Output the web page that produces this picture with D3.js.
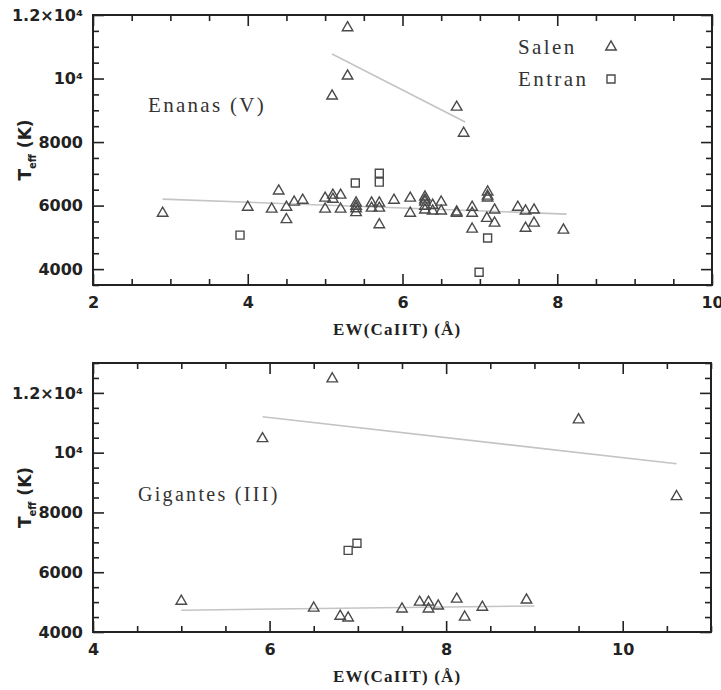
<!DOCTYPE html>
<html>
<head>
<meta charset="utf-8">
<script src="https://cdn.jsdelivr.net/npm/d3@7"></script>
<style>
  body { margin: 0; background: #fff; }
  svg { display: block; }
</style>
</head>
<body>
<script>
// Teff vs EW(CaIIT) -- enanas arriba, gigantes abajo

// top panel (Enanas V)
var dwarfSalenX = [5.29, 5.29, 5.09, 6.70, 6.79, 2.90, 4.00, 4.31, 4.40, 4.50, 4.50, 4.60, 4.71,
                   5.00, 5.00, 5.10, 5.10, 5.20, 5.20, 5.40, 5.40, 5.40, 5.40, 5.60, 5.70, 5.60,
                   5.70, 5.70, 5.89, 6.10, 6.10, 6.29, 6.29, 6.29, 6.29, 6.29, 6.39, 6.39, 6.50,
                   6.50, 6.70, 6.70, 6.90, 6.90, 6.90, 7.10, 7.10, 7.10, 7.09, 7.19, 7.19, 7.49,
                   7.59, 7.70, 7.59, 7.70, 8.08];
var dwarfSalenY = [11600, 10080, 9450, 9100, 8280, 5760, 5950, 5890, 6460, 5950, 5560, 6110, 6170,
                   6235, 5890, 6330, 6200, 6330, 5890, 6080, 5980, 5900, 5780, 6080, 6080, 5920,
                   5920, 5400, 6170, 6235, 5760, 6270, 6180, 6110, 5980, 5860, 6010, 5830, 6110,
                   5830, 5760, 5800, 5950, 5760, 5260, 6430, 6300, 6240, 5600, 5860, 5450, 5950,
                   5830, 5860, 5290, 5450, 5230];
var dwarfEntranX = [3.90, 5.39, 5.70, 5.70, 7.10, 6.99];
var dwarfEntranY = [5070, 6710, 7020, 6740, 4980, 3900];
var dwarfFitX = [[5.09, 6.81], [2.90, 8.12]];
var dwarfFitY = [[10770, 8630], [6205, 5732]];

// bottom panel (Gigantes III)
var giantSalenX = [6.71, 5.92, 9.50, 10.61, 5.00, 6.50, 6.80, 6.89, 7.50, 7.70, 7.80, 7.80, 7.91,
                   8.12, 8.21, 8.41, 8.91];
var giantSalenY = [12470, 10470, 11100, 8530, 5030, 4800, 4530, 4470, 4770, 5000, 5000, 4770, 4870,
                   5100, 4500, 4830, 5070];
var giantEntranX = [6.89, 6.99];
var giantEntranY = [6730, 6970];
var giantFitX = [[5.92, 10.61], [5.00, 9.00]];
var giantFitY = [[11200, 9630], [4730, 4870]];

var xMajor1 = [2, 4, 6, 8, 10];
var xMajor2 = [4, 6, 8, 10];
var yMajor = [4000, 6000, 8000, 10000, 12000];
var yLabels = {4000: "4000", 6000: "6000", 8000: "8000", 10000: "10\u2074", 12000: "1.2\u00d710\u2074"};

var width = 721, height = 690;
var svg = d3.select("body").append("svg")
            .attr("width", width)
            .attr("height", height);

var ink = "#222";
var markInk = "#4a4a4a";
var fitColor = "#c4c4c4";
var serif = "'Liberation Serif', 'DejaVu Serif', serif";

function range(a, b, step) {
    var out = [];
    for (var v = a; v <= b + 1e-9; v += step) out.push(+v.toFixed(3));
    return out;
}

function zip(xs, ys) {
    return xs.map(function(x, i) { return [x, ys[i]]; });
}

function drawPanel(p) {
    var x = d3.scaleLinear().domain(p.xDomain).range([p.left, p.right]);
    var y = d3.scaleLinear().domain(p.yDomain).range([p.bottom, p.top]);
    var g = svg.append("g");

    var xMinor = range(p.xDomain[0], p.xDomain[1], 0.5).filter(function(v) { return p.xMajor.indexOf(v) < 0; });
    var yMinor = range(p.yDomain[0], p.yDomain[1], 500).filter(function(v) { return yMajor.indexOf(v) < 0; });

    // bottom axis with labels, ticks pointing in
    g.append("g")
     .attr("transform", "translate(0," + p.bottom + ")")
     .call(d3.axisBottom(x).tickValues(p.xMajor).tickSize(-11).tickPadding(12).tickFormat(d3.format("d")))
     .call(function(a) { a.select(".domain").remove(); });
    g.append("g")
     .attr("transform", "translate(0," + p.bottom + ")")
     .call(d3.axisBottom(x).tickValues(xMinor).tickSize(-6).tickFormat(""))
     .call(function(a) { a.select(".domain").remove(); });
    // top mirror
    g.append("g")
     .attr("transform", "translate(0," + p.top + ")")
     .call(d3.axisTop(x).tickValues(p.xMajor).tickSize(-11).tickFormat(""))
     .call(function(a) { a.select(".domain").remove(); });
    g.append("g")
     .attr("transform", "translate(0," + p.top + ")")
     .call(d3.axisTop(x).tickValues(xMinor).tickSize(-6).tickFormat(""))
     .call(function(a) { a.select(".domain").remove(); });

    // left axis
    g.append("g")
     .attr("transform", "translate(" + p.left + ",0)")
     .call(d3.axisLeft(y).tickValues(yMajor).tickSize(-11).tickPadding(10)
             .tickFormat(function(d) { return yLabels[d]; }))
     .call(function(a) { a.select(".domain").remove(); });
    g.append("g")
     .attr("transform", "translate(" + p.left + ",0)")
     .call(d3.axisLeft(y).tickValues(yMinor).tickSize(-6).tickFormat(""))
     .call(function(a) { a.select(".domain").remove(); });
    // right mirror
    g.append("g")
     .attr("transform", "translate(" + p.right + ",0)")
     .call(d3.axisRight(y).tickValues(yMajor).tickSize(-11).tickFormat(""))
     .call(function(a) { a.select(".domain").remove(); });
    g.append("g")
     .attr("transform", "translate(" + p.right + ",0)")
     .call(d3.axisRight(y).tickValues(yMinor).tickSize(-6).tickFormat(""))
     .call(function(a) { a.select(".domain").remove(); });

    g.selectAll(".tick line").attr("stroke", ink).attr("stroke-width", 1.6);
    g.selectAll(".tick text")
     .attr("fill", ink)
     .style("font-family", "'DejaVu Sans', sans-serif")
     .style("font-weight", "bold")
     .style("font-size", "16px");

    g.append("rect")
     .attr("x", p.left).attr("y", p.top)
     .attr("width", p.right - p.left).attr("height", p.bottom - p.top)
     .attr("fill", "none").attr("stroke", ink).attr("stroke-width", 2);

    // fit lines
    var line = d3.line().x(function(d) { return x(d[0]); }).y(function(d) { return y(d[1]); });
    p.fitX.forEach(function(fx, i) {
        g.append("path")
         .attr("d", line(zip(fx, p.fitY[i])))
         .attr("fill", "none").attr("stroke", fitColor).attr("stroke-width", 1.6);
    });

    var tri = d3.symbol(d3.symbolTriangle, 48);
    var sq = d3.symbol(d3.symbolSquare, 64);

    g.selectAll("path.salen")
     .data(zip(p.salenX, p.salenY))
     .enter().append("path")
     .attr("class", "salen")
     .attr("d", tri)
     .attr("transform", function(d) { return "translate(" + x(d[0]) + "," + y(d[1]) + ")"; })
     .attr("fill", "none").attr("stroke", markInk).attr("stroke-width", 1.4);

    g.selectAll("path.entran")
     .data(zip(p.entranX, p.entranY))
     .enter().append("path")
     .attr("class", "entran")
     .attr("d", sq)
     .attr("transform", function(d) { return "translate(" + x(d[0]) + "," + y(d[1]) + ")"; })
     .attr("fill", "none").attr("stroke", markInk).attr("stroke-width", 1.4);

    // x title
    g.append("text")
     .attr("x", 333).attr("y", p.bottom + 50)
     .attr("fill", ink)
     .style("font-family", serif)
     .style("font-weight", "bold")
     .style("font-size", "17px")
     .style("letter-spacing", "1.2px")
     .text("EW(CaIIT) (\u00c5)");

    // y title
    var cy = (p.top + p.bottom) / 2;
    var yt = g.append("text")
     .attr("transform", "translate(31," + cy + ") rotate(-90)")
     .attr("text-anchor", "middle")
     .attr("fill", ink)
     .style("font-family", "'DejaVu Sans', sans-serif")
     .style("font-weight", "bold")
     .style("font-size", "17px");
    yt.append("tspan").text("T");
    yt.append("tspan").attr("dy", 5).style("font-size", "10px").text("eff");
    yt.append("tspan").attr("dy", -5).text(" (K)");

    g.append("text")
     .attr("x", p.labelX).attr("y", p.labelY)
     .attr("fill", "#333")
     .style("font-family", serif)
     .style("font-size", p.labelSize + "px")
     .style("letter-spacing", "2.3px")
     .text(p.label);

    return { g: g, x: x, y: y };
}

drawPanel({
    left: 93, right: 712, top: 15, bottom: 285,
    xDomain: [2, 10], yDomain: [3500, 12000], xMajor: xMajor1,
    salenX: dwarfSalenX, salenY: dwarfSalenY,
    entranX: dwarfEntranX, entranY: dwarfEntranY,
    fitX: dwarfFitX, fitY: dwarfFitY,
    label: "Enanas (V)", labelX: 148, labelY: 112, labelSize: 21
});

drawPanel({
    left: 93, right: 711, top: 363, bottom: 632,
    xDomain: [4, 11], yDomain: [4000, 13000], xMajor: xMajor2,
    salenX: giantSalenX, salenY: giantSalenY,
    entranX: giantEntranX, entranY: giantEntranY,
    fitX: giantFitX, fitY: giantFitY,
    label: "Gigantes (III)", labelX: 138, labelY: 501, labelSize: 20
});

// legend, top panel
var legend = svg.append("g");
var legendItems = ["Salen", "Entran"];
legendItems.forEach(function(name, i) {
    var ly = 47 + i * 32;
    legend.append("text")
          .attr("x", 518).attr("y", ly + 7)
          .attr("fill", "#333")
          .style("font-family", serif)
          .style("font-size", "21px")
          .style("letter-spacing", "2.4px")
          .text(name);
    legend.append("path")
          .attr("d", d3.symbol(i === 0 ? d3.symbolTriangle : d3.symbolSquare, i === 0 ? 48 : 64)())
          .attr("transform", "translate(611," + ly + ")")
          .attr("fill", "none").attr("stroke", markInk).attr("stroke-width", 1.4);
});
</script>
</body>
</html>
